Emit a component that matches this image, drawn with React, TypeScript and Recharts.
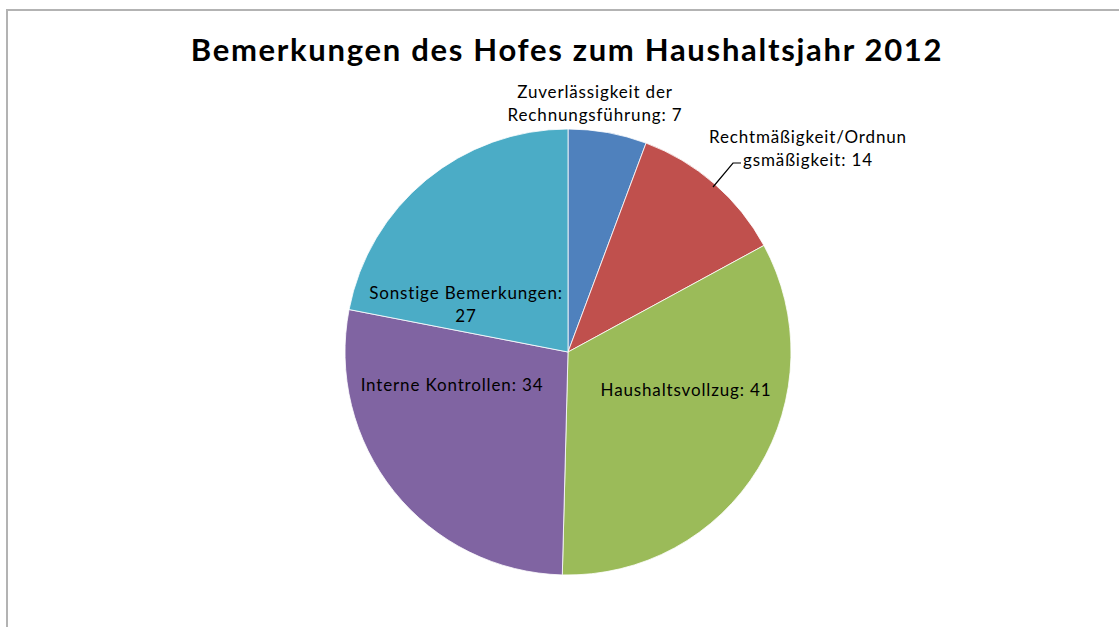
import React from "react";
import { PieChart, Pie, Cell } from "recharts";

const categories = [
  "Zuverlässigkeit der Rechnungsführung",
  "Rechtmäßigkeit/Ordnungsmäßigkeit",
  "Haushaltsvollzug",
  "Interne Kontrollen",
  "Sonstige Bemerkungen",
];
const values = [7, 14, 41, 34, 27];
const colors = ["#4F81BD", "#C0504D", "#9BBB59", "#8064A2", "#4BACC6"];

const data = categories.map((name, i) => ({ name, value: values[i] }));

// label placement, relative to the pie centre (first line baseline)
const labelLayout = [
  { dx: 27, dy: -254, split: 19 },
  { dx: 240, dy: -209, split: 21 },
  { dx: 118, dy: 44, split: 0 },
  { dx: -116, dy: 39, split: 0 },
  { dx: -102, dy: -53, split: 21 },
];
const leader = [
  [145, -165],
  [165, -189],
  [173, -189],
];

const FONT = "Lato, 'Open Sans', sans-serif";

const renderLabel = (props: any) => {
  const { cx, cy, index, name, value } = props;
  const lay = labelLayout[index];
  const full = `${name}: ${value}`;
  const lines = lay.split ? [full.slice(0, lay.split).trim(), full.slice(lay.split).trim()] : [full];
  return (
    <g key={`lbl-${index}`}>
      {index === 1 && (
        <polyline
          points={leader.map(([x, y]) => `${cx + x},${cy + y}`).join(" ")}
          fill="none"
          stroke="#000"
          strokeWidth={1.2}
        />
      )}
      <text
        x={cx + lay.dx}
        y={cy + lay.dy}
        textAnchor="middle"
        fill="#000"
        style={{ fontFamily: FONT, fontSize: 17, letterSpacing: 0.85 }}
      >
        {lines.map((l, j) => (
          <tspan key={j} x={cx + lay.dx} dy={j === 0 ? 0 : 23}>
            {l}
          </tspan>
        ))}
      </text>
    </g>
  );
};

export default function App() {
  return (
    <div
      style={{
        position: "absolute",
        left: 0,
        top: 0,
        width: 1119,
        height: 627,
        overflow: "hidden",
        background: "#fff",
      }}
    >
      <div
        style={{
          position: "absolute",
          left: 6,
          top: 9,
          width: 1200,
          height: 700,
          border: "2px solid #b3b3b3",
        }}
      />
      <svg width={1119} height={627} style={{ position: "absolute", left: 0, top: 0 }}>
        <text
          x={567}
          y={61}
          textAnchor="middle"
          fill="#000"
          style={{ fontFamily: FONT, fontSize: 31, fontWeight: 700, letterSpacing: 1.7 }}
        >
          Bemerkungen des Hofes zum Haushaltsjahr 2012
        </text>
      </svg>
      <div style={{ position: "absolute", left: 0, top: 0 }}>
        <PieChart width={1119} height={627} margin={{ top: 0, right: 0, bottom: 0, left: 0 }}>
          <Pie
            data={data}
            dataKey="value"
            nameKey="name"
            cx={568}
            cy={352}
            outerRadius={223}
            startAngle={90}
            endAngle={-270}
            stroke="#fff"
            strokeWidth={0.8}
            label={renderLabel}
            labelLine={false}
            isAnimationActive={false}
          >
            {data.map((d, i) => (
              <Cell key={d.name} fill={colors[i]} />
            ))}
          </Pie>
        </PieChart>
      </div>
    </div>
  );
}
